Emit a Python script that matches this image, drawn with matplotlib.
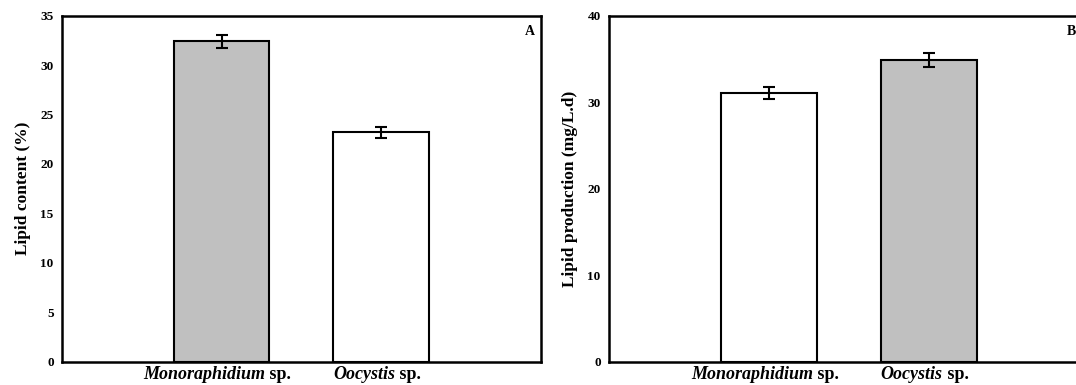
import numpy as np
import matplotlib.pyplot as plt
from matplotlib.offsetbox import TextArea, HPacker, AnnotationBbox

plt.rcParams['font.family'] = ['Liberation Serif', 'DejaVu Serif']
plt.rcParams['font.weight'] = 'bold'

species = ['Monoraphidium', 'Oocystis']
lipid_content = [32.4, 23.2]
lipid_content_err = [0.7, 0.55]
lipid_prod = [31.1, 34.9]
lipid_prod_err = [0.7, 0.8]

gray = '#c0c0c0'
x = np.array([1, 2])

fig = plt.figure(figsize=(10.76, 3.85), dpi=100)
axA = fig.add_axes([0.0576, 0.061, 0.445, 0.898])
axB = fig.add_axes([0.566, 0.061, 0.446, 0.898])


def species_label(ax, xpos, name):
    # italic genus + upright "sp."
    parts = HPacker(children=[
        TextArea(name, textprops=dict(fontsize=13, fontweight='bold', fontstyle='italic')),
        TextArea(' sp.', textprops=dict(fontsize=13, fontweight='bold')),
    ], align='baseline', pad=0, sep=0)
    ab = AnnotationBbox(parts, (xpos, 0), xycoords=ax.get_xaxis_transform(),
                        xybox=(-3, -3), boxcoords='offset points',
                        box_alignment=(0.5, 1.0), frameon=False, annotation_clip=False)
    ax.add_artist(ab)


def panel(ax, vals, errs, colors, ymax, yticks, ylabel, tag, tagx):
    ax.bar(x, vals, width=0.6, color=colors, edgecolor='black', linewidth=1.5, zorder=2)
    ax.errorbar(x, vals, yerr=errs, fmt='none', ecolor='black', elinewidth=1.5,
                capsize=4, capthick=1.5, zorder=3)
    ax.set_xlim(0, 3)
    ax.set_ylim(0, ymax)
    ax.set_yticks(yticks)
    ax.set_xticks([])
    for xi, s in zip(x, species):
        species_label(ax, xi, s)
    ax.tick_params(axis='y', length=0, pad=6, labelsize=9.5)
    for sp in ax.spines.values():
        sp.set_linewidth(1.8)
    ax.set_ylabel(ylabel, fontsize=12.5, fontweight='bold', labelpad=7)
    ax.text(tagx, 0.955, tag, transform=ax.transAxes, ha='left', va='center',
            fontsize=10, fontweight='bold')


panel(axA, lipid_content, lipid_content_err, [gray, 'white'], 35,
      [0, 5, 10, 15, 20, 25, 30, 35], 'Lipid content (%)', 'A', 0.966)
panel(axB, lipid_prod, lipid_prod_err, ['white', gray], 40,
      [0, 10, 20, 30, 40], 'Lipid production (mg/L.d)', 'B', 0.954)

fig.savefig('out.png', dpi=100)
